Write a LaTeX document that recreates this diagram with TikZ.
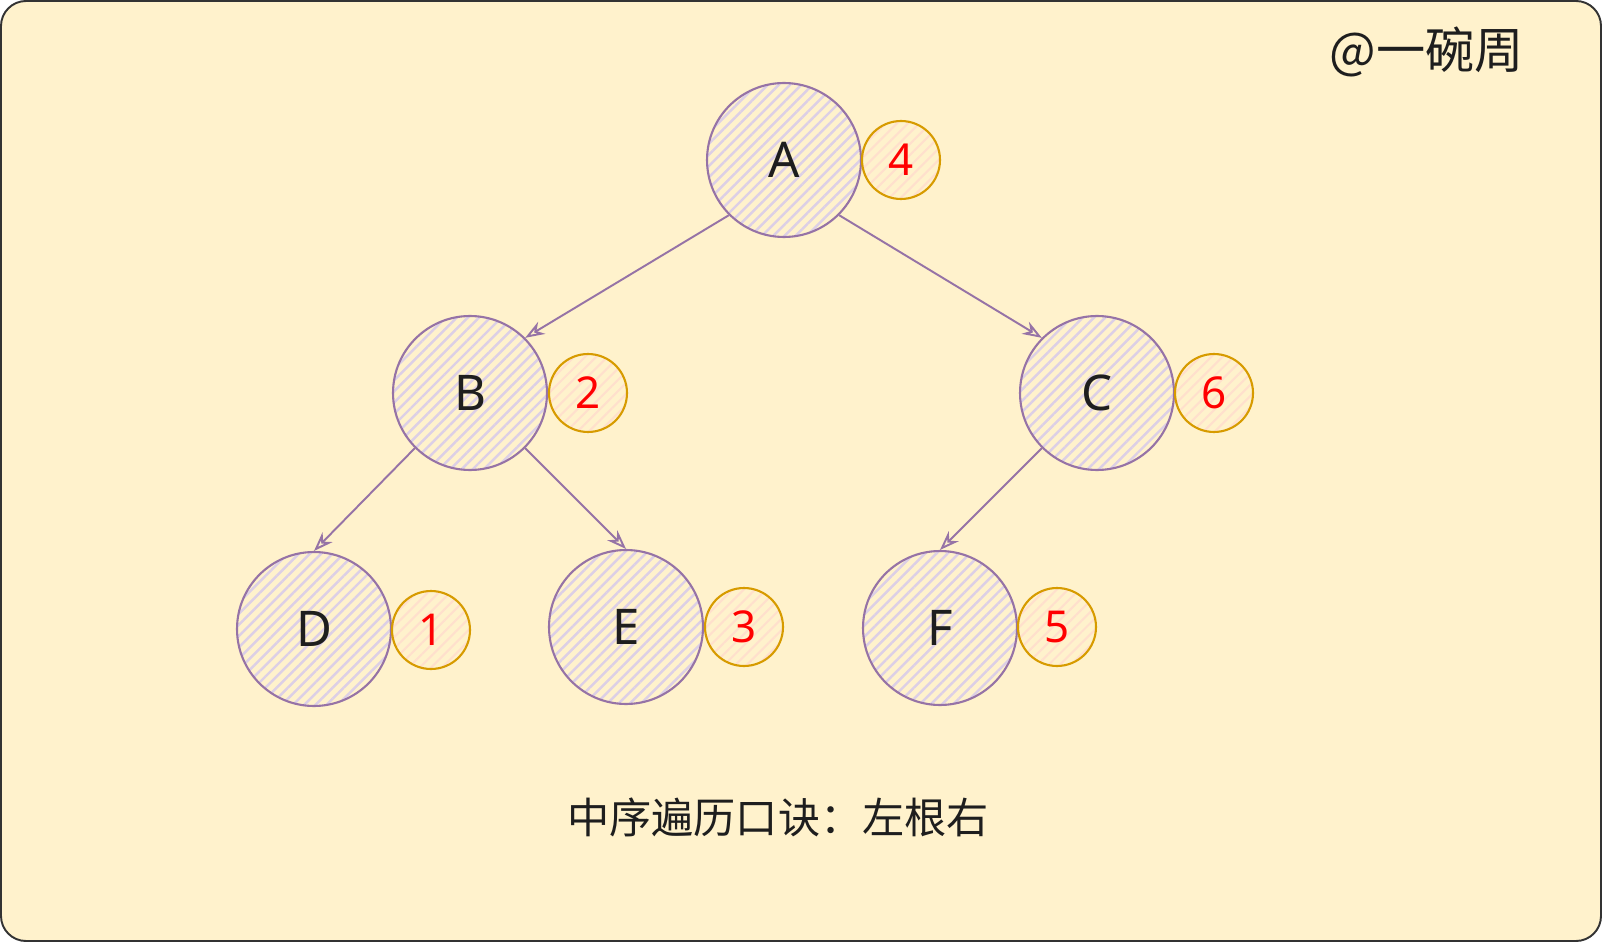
\documentclass[tikz,border=0pt]{standalone}
\usepackage{fontspec}
\setmainfont{Noto Sans}
\newfontfamily\cjkfont{Noto Sans CJK SC}
\usetikzlibrary{arrows.meta, patterns.meta}
\definecolor{paper}{HTML}{FFF2CC}
\definecolor{frameline}{HTML}{333333}
\definecolor{nodeline}{HTML}{9673A6}
\definecolor{nodehatch}{HTML}{DCCFE6}
\definecolor{orderline}{HTML}{D79B00}
\definecolor{orderhatch}{HTML}{FFE0CC}
\definecolor{ink}{HTML}{1E1E1E}

\begin{document}
\begin{tikzpicture}[x=0.02cm, y=-0.02cm,
		vertex/.style={circle, draw=nodeline, line width=1.2pt, minimum size=3.08cm, inner sep=0pt,
			pattern={Lines[angle=45, distance=4.5pt, line width=1.4pt]}, pattern color=nodehatch,
			text=ink, font=\fontsize{28}{30}\selectfont},
		order/.style={circle, draw=orderline, line width=1.2pt, minimum size=1.56cm, inner sep=0pt,
			pattern={Lines[angle=45, distance=4.5pt, line width=1.2pt]}, pattern color=orderhatch,
			text=red, font=\fontsize{25}{27}\selectfont},
		edge/.style={draw=nodeline, line width=1.1pt, -{Stealth[open, length=11pt, width=8pt]}},
		note/.style={text=ink, font=\cjkfont\fontsize{24}{26}\selectfont}]

	% page and frame
	\useasboundingbox (0,0) rectangle (1602,942);
	\draw[frameline, fill=paper, line width=1.1pt, rounded corners=0.5cm] (1,1) rectangle (1601,941);

	% tree nodes
	\node[vertex] (A) at (784,160) {A};
	\node[vertex] (B) at (470,393) {B};
	\node[vertex] (C) at (1097,393) {C};
	\node[vertex] (D) at (314,629) {D};
	\node[vertex] (E) at (626,627) {E};
	\node[vertex] (F) at (940,628) {F};

	% visiting order
	\node[order] (nA) at (901,160) {4};
	\node[order] (nB) at (588,393) {2};
	\node[order] (nC) at (1214,393) {6};
	\node[order] (nD) at (431,630) {1};
	\node[order] (nE) at (744,627) {3};
	\node[order] (nF) at (1057,627) {5};

	% edges
	\draw[edge] (A.south west) -- (B.north east);
	\draw[edge] (A.south east) -- (C.north west);
	\draw[edge] (B.south west) -- (D.north);
	\draw[edge] (B.south east) -- (E.north);
	\draw[edge] (C.south west) -- (F.north);

	% texts
	\node[note] (rule) at (778,817) {中序遍历口诀：左根右};
	\node[note, font=\cjkfont\fontsize{28}{30}\selectfont, anchor=east] (mark) at (1530,52) {@一碗周};
\end{tikzpicture}
\end{document}
